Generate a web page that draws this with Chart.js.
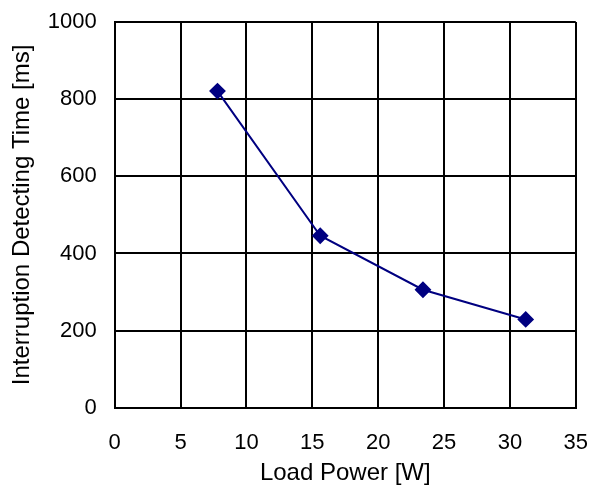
<!DOCTYPE html>
<html>
<head>
<meta charset="utf-8">
<script src="https://cdn.jsdelivr.net/npm/chart.js@4"></script>
<style>
  html, body { margin: 0; padding: 0; background: #fff; }
  #wrap { width: 592px; height: 488px; }
</style>
</head>
<body>
<div id="wrap"><canvas id="chart" width="592" height="488"></canvas></div>
<script>
// Load power [W] vs interruption detecting time [ms]
const loadPower = [7.8, 15.6, 23.4, 31.2];
const detectTime = [821, 446, 306, 229];
const xTicks = [0, 5, 10, 15, 20, 25, 30, 35];
const yTicks = [0, 200, 400, 600, 800, 1000];

const points = loadPower.map((x, i) => ({ x: x, y: detectTime[i] }));

const tickFont = { family: 'Liberation Sans', size: 22 };
const titleFont = { family: 'Liberation Sans', size: 24 };

const ctx = document.getElementById('chart').getContext('2d');
const chart = new Chart(ctx, {
    type: 'line',
    data: {
        datasets: [{
            data: points,
            borderColor: '#000080',
            backgroundColor: '#000080',
            borderWidth: 2,
            pointStyle: 'rectRot',
            pointRadius: 7,
            pointHoverRadius: 7,
            tension: 0,
            fill: false
        }]
    },
    options: {
        responsive: false,
        animation: false,
        layout: { padding: { top: 22, right: 0, left: 4, bottom: 0 } },
        plugins: {
            legend: { display: false },
            tooltip: { enabled: false }
        },
        scales: {
            x: {
                type: 'linear',
                min: 0,
                max: 35,
                afterBuildTicks: axis => { axis.ticks = xTicks.map(v => ({ value: v })); },
                grid: { color: '#000', lineWidth: 2, drawTicks: true, tickLength: 18, tickColor: 'rgba(0,0,0,0)' },
                border: { color: '#000', width: 2 },
                ticks: { color: '#000', font: tickFont, padding: 4, callback: v => String(v) },
                title: { display: true, text: 'Load Power [W]', color: '#000', font: titleFont, padding: { top: -1, bottom: 0 } }
            },
            y: {
                min: 0,
                max: 1000,
                afterBuildTicks: axis => { axis.ticks = yTicks.map(v => ({ value: v })); },
                grid: { color: '#000', lineWidth: 2, drawTicks: true, tickLength: 14, tickColor: 'rgba(0,0,0,0)' },
                border: { color: '#000', width: 2 },
                ticks: { color: '#000', font: tickFont, padding: 4, callback: v => String(v) },
                title: { display: true, text: 'Interruption Detecting Time [ms]', color: '#000', font: titleFont, padding: { top: 4, bottom: 7 } }
            }
        }
    }
});
</script>
</body>
</html>
